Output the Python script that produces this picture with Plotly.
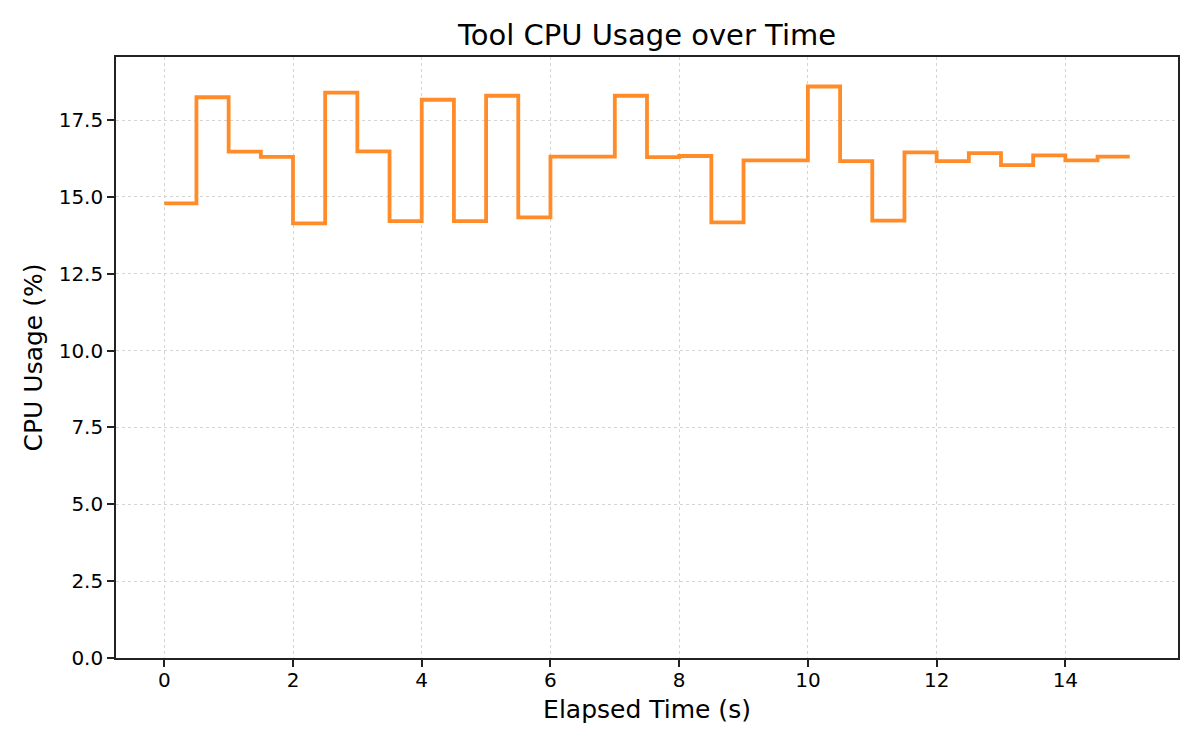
import plotly.graph_objects as go

# elapsed time (s), one sample every 0.5 s
elapsed = [i * 0.5 for i in range(31)]
cpu_usage = [14.79, 18.24, 16.47, 16.30, 14.14, 18.39, 16.48, 14.21,
             18.16, 14.21, 18.29, 14.33, 16.31, 16.31, 18.29, 16.29,
             16.33, 14.17, 16.19, 16.19, 18.59, 16.16, 14.23, 16.45,
             16.16, 16.42, 16.03, 16.35, 16.19, 16.31, 16.31]

fig = go.Figure()

# step line (post)
fig.add_trace(go.Scatter(x=elapsed, y=cpu_usage, mode='lines', line_shape='hv',
                         line=dict(color='#ff8c28', width=3.8), showlegend=False))

axis_style = dict(showline=True, mirror=True, linecolor='#222222', linewidth=1.6,
                  ticks='outside', ticklen=7, tickwidth=1.6, tickcolor='#222222',
                  showgrid=True, gridcolor='#d4d4d4', gridwidth=1.2, griddash='dot',
                  zeroline=False, tickfont=dict(size=20, color='black'))

# page body has an 8px margin, so the figure is a bit smaller and shifted
fig.update_layout(
    width=1192, height=742,
    paper_bgcolor='white', plot_bgcolor='white',
    font=dict(family='DejaVu Sans', color='black'),
    margin=dict(l=108, r=22, t=49, b=92),
    title=dict(text='Tool CPU Usage over Time', font=dict(size=29),
               x=0.5, xref='paper', xanchor='center',
               y=1 - 27 / 742, yref='container', yanchor='middle'),
    xaxis=dict(axis_style, range=[-0.75, 15.75], dtick=2, tick0=0, ticklabelstandoff=-4,
               title=dict(text='Elapsed Time (s)', font=dict(size=25), standoff=10)),
    yaxis=dict(axis_style, range=[0, 19.55], dtick=2.5, tick0=0, tickformat='.1f',
               title=dict(text='CPU Usage (%)', font=dict(size=25), standoff=9)),
)

fig.write_html("out.html")
